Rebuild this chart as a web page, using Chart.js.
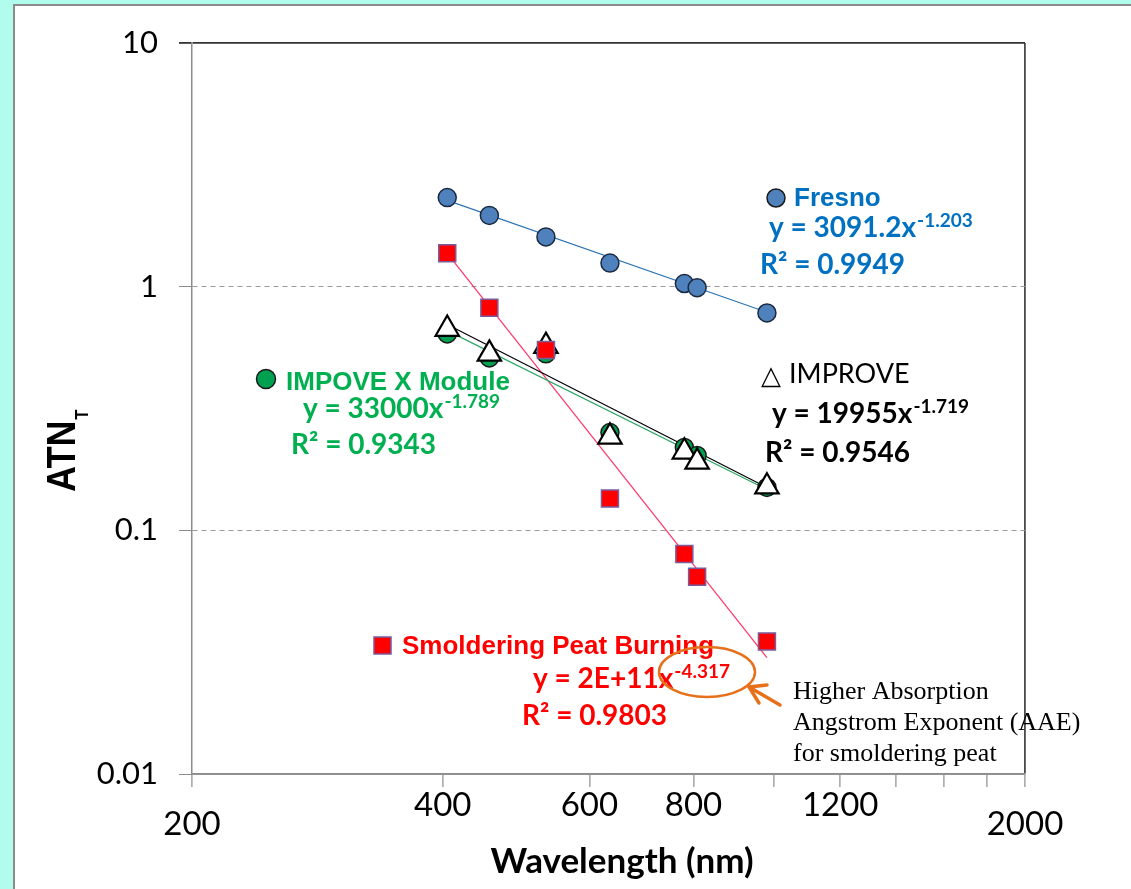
<!DOCTYPE html>
<html>
<head>
<meta charset="utf-8">
<script src="https://cdn.jsdelivr.net/npm/chart.js@4.4.1/dist/chart.umd.min.js"></script>
<style>
  html, body { margin: 0; padding: 0; }
  body { width: 1131px; height: 889px; background: #b2fcee; position: relative; overflow: hidden; }
  #panel { position: absolute; left: 13px; top: 4px; width: 1140px; height: 900px; background: #fff; border: 2px solid #8c8c8c; }
  #chart { position: absolute; left: 0; top: 0; }
</style>
</head>
<body>
<div id="panel"></div>
<canvas id="chart" width="1131" height="889"></canvas>
<script>
// wavelengths (nm) and ATN values
const wavelengths = [405, 455, 532, 635, 780, 808, 980];
const fresno   = [2.32, 1.96, 1.60, 1.25, 1.03, 0.99, 0.78];
const improve  = [0.67, 0.53, 0.57, 0.242, 0.21, 0.191, 0.151];
const improveX = [0.64, 0.51, 0.53, 0.252, 0.219, 0.203, 0.150];
const peat     = [1.37, 0.82, 0.55, 0.135, 0.080, 0.0645, 0.035];

// power-law fit lines, endpoints
const fitRange    = [405, 980];
const fresnoFit   = [2.26, 0.785];
const improveFit  = [0.70, 0.150];
const improveXFit = [0.66, 0.147];
const peatFit     = [1.37, 0.030];

const xTicks = [200, 400, 600, 800, 1000, 1200, 1400, 1600, 1800, 2000];
const xTickLabels = ['200', '400', '600', '800', '', '1200', '', '', '', '2000'];
const xLowLabels = [200, 2000];
const yTicks = [0.01, 0.1, 1, 10];
const yTickLabels = ['0.01', '0.1', '1', '10'];

const BLUE = '#0070c0', GREEN = '#00b050', RED = '#ff0000', ORANGE = '#e7711b';

const pts = (xs, ys) => xs.map((x, i) => ({ x: x, y: ys[i] }));

const annotations = {
  id: 'annotations',
  afterDraw(chart) {
    const ctx = chart.ctx;
    ctx.save();
    ctx.textBaseline = 'alphabetic';
    ctx.textAlign = 'left';

    const label = (txt, x, y, font, color) => {
      ctx.font = font; ctx.fillStyle = color; ctx.fillText(txt, x, y);
      return ctx.measureText(txt).width;
    };
    const eq = (main, sup, x, y, color) => {
      const w = label(main, x, y, 'bold 28px Lato', color);
      label(sup, x + w + 1, y - 10, 'bold 19px Lato', color);
    };
    const circle = (x, y, r, fill) => {
      ctx.beginPath(); ctx.arc(x, y, r, 0, Math.PI * 2);
      ctx.fillStyle = fill; ctx.fill();
      ctx.lineWidth = 1.5; ctx.strokeStyle = '#1a1a1a'; ctx.stroke();
    };

    // Fresno
    circle(776, 198, 9, '#4f81bd');
    label('Fresno', 794, 206, 'bold 26px "Liberation Sans"', BLUE);
    eq('y = 3091.2x', '-1.203', 769, 237, BLUE);
    label('R\u00b2 = 0.9949', 760, 274, 'bold 28px Lato', BLUE);

    // IMPROVE
    label('\u25b3', 761, 384, '26px "DejaVu Sans"', '#000');
    label('IMPROVE', 789, 383, '27px Lato', '#000');
    eq('y = 19955x', '-1.719', 772, 423, '#000');
    label('R\u00b2 = 0.9546', 765, 462, 'bold 28px Lato', '#000');

    // IMPOVE X Module
    circle(266, 379, 9.5, '#00a050');
    label('IMPOVE X Module', 286, 390, 'bold 26px "Liberation Sans"', GREEN);
    eq('y = 33000x', '-1.789', 303, 418, GREEN);
    label('R\u00b2 = 0.9343', 291, 454, 'bold 28px Lato', GREEN);

    // Smoldering Peat Burning
    ctx.fillStyle = RED; ctx.fillRect(374, 637, 17, 17);
    ctx.lineWidth = 1.5; ctx.strokeStyle = '#7a5c9e'; ctx.strokeRect(374, 637, 17, 17);
    label('Smoldering Peat Burning', 402, 654, 'bold 26px "Liberation Sans"', RED);
    eq('y = 2E+11x', '-4.317', 533, 688, RED);
    label('R\u00b2 = 0.9803', 522, 725, 'bold 28px Lato', RED);

    // highlighted exponent + arrow
    ctx.strokeStyle = ORANGE; ctx.lineWidth = 2.5; ctx.lineCap = 'round';
    ctx.beginPath(); ctx.ellipse(707, 672, 48, 25, 0, 0, Math.PI * 2); ctx.stroke();
    ctx.lineWidth = 3.5;
    ctx.beginPath();
    ctx.moveTo(780, 705); ctx.lineTo(749, 687);
    ctx.moveTo(767, 685); ctx.lineTo(749, 687); ctx.lineTo(759, 703);
    ctx.stroke();

    ['Higher Absorption', 'Angstrom Exponent (AAE)', 'for smoldering peat'].forEach((t, i) => {
      label(t, 793, 699 + i * 31, '26px "Liberation Serif"', '#000');
    });

    // x axis title
    ctx.textAlign = 'center';
    label('Wavelength (nm)', 622, 873, 'bold 35px Lato', '#000');
    ctx.textAlign = 'left';

    // y axis title ATN_T
    ctx.translate(75, 492);
    ctx.rotate(-Math.PI / 2);
    ctx.scale(0.88, 1);
    const w = label('ATN', 0, 0, 'bold 41px "Liberation Sans"', '#000');
    label('T', w + 1, 13, 'bold 19px "Liberation Sans"', '#000');
    ctx.restore();
  }
};

new Chart(document.getElementById('chart'), {
  type: 'scatter',
  data: {
    datasets: [
      { data: pts(wavelengths, peat), pointStyle: 'rect', pointRadius: 12, backgroundColor: '#ff0000', borderColor: '#7a5c9e', borderWidth: 1.5, order: 0 },
      { data: pts(wavelengths, improve), pointStyle: 'triangle', pointRadius: 13.5, backgroundColor: '#ffffff', borderColor: '#000', borderWidth: 2.2, order: 1 },
      { data: pts(wavelengths, improveX), pointStyle: 'circle', pointRadius: 9, backgroundColor: '#00a050', borderColor: '#1a1a1a', borderWidth: 1.5, order: 2 },
      { data: pts(wavelengths, fresno), pointStyle: 'circle', pointRadius: 9, backgroundColor: '#4f81bd', borderColor: '#1a2a40', borderWidth: 1.5, order: 3 },
      { data: pts(fitRange, fresnoFit), showLine: true, pointRadius: 0, borderColor: '#2e75b6', borderWidth: 1.2, order: 10 },
      { data: pts(fitRange, improveXFit), showLine: true, pointRadius: 0, borderColor: '#2ba86a', borderWidth: 1.2, order: 11 },
      { data: pts(fitRange, improveFit), showLine: true, pointRadius: 0, borderColor: '#000', borderWidth: 1.2, order: 12 },
      { data: pts(fitRange, peatFit), showLine: true, pointRadius: 0, borderColor: '#ff3366', borderWidth: 1.2, order: 13 }
    ]
  },
  options: {
    responsive: false,
    animation: false,
    layout: { padding: { top: 43, right: 106, left: 0, bottom: 0 } },
    plugins: { legend: { display: false }, tooltip: { enabled: false } },
    scales: {
      x: {
        type: 'logarithmic',
        min: 200, max: 2000,
        afterBuildTicks: (s) => { s.ticks = xTicks.map(v => ({ value: v })); },
        afterFit: (s) => { s.height = 115; },
        ticks: {
          autoSkip: false, maxRotation: 0, padding: 6, color: '#000',
          callback: (v) => xTickLabels[xTicks.indexOf(v)] || '',
          font: (c) => ({
            family: 'Lato', size: 33,
            lineHeight: (c.tick && xLowLabels.includes(c.tick.value)) ? '62px' : '24px'
          })
        },
        grid: {
          drawOnChartArea: true, drawTicks: true, tickLength: 13,
          color: (c) => (c.tick && c.tick.value === 2000) ? '#4a4a4a' : 'rgba(0,0,0,0)',
          lineWidth: 1.8,
          tickColor: '#8c8c8c', tickWidth: 1.2
        },
        border: { display: true, color: '#8c8c8c', width: 1.5 },
        title: { display: false }
      },
      y: {
        type: 'logarithmic',
        min: 0.01, max: 10,
        afterBuildTicks: (s) => { s.ticks = yTicks.map(v => ({ value: v })); },
        afterFit: (s) => { s.width = 192; },
        ticks: {
          padding: 21, color: '#000',
          callback: (v) => yTickLabels[yTicks.indexOf(v)] || '',
          font: { family: 'Lato', size: 31 }
        },
        grid: {
          drawOnChartArea: true, drawTicks: true, tickLength: 13,
          color: (c) => (c.tick && c.tick.value === 10) ? '#333' : '#9a9a9a',
          lineWidth: (c) => (c.tick && c.tick.value === 10) ? 1.8 : 1,
          tickColor: (c) => (c.tick && c.tick.value === 10) ? '#333' : '#8c8c8c'
        },
        border: {
          display: true, color: '#8c8c8c', width: 1.5,
          dash: (c) => (c.type === 'tick' && c.tick.value !== 10 && c.tick.value !== 0.01) ? [5, 4] : []
        },
        title: { display: false }
      }
    }
  },
  plugins: [annotations]
});
</script>
</body>
</html>
